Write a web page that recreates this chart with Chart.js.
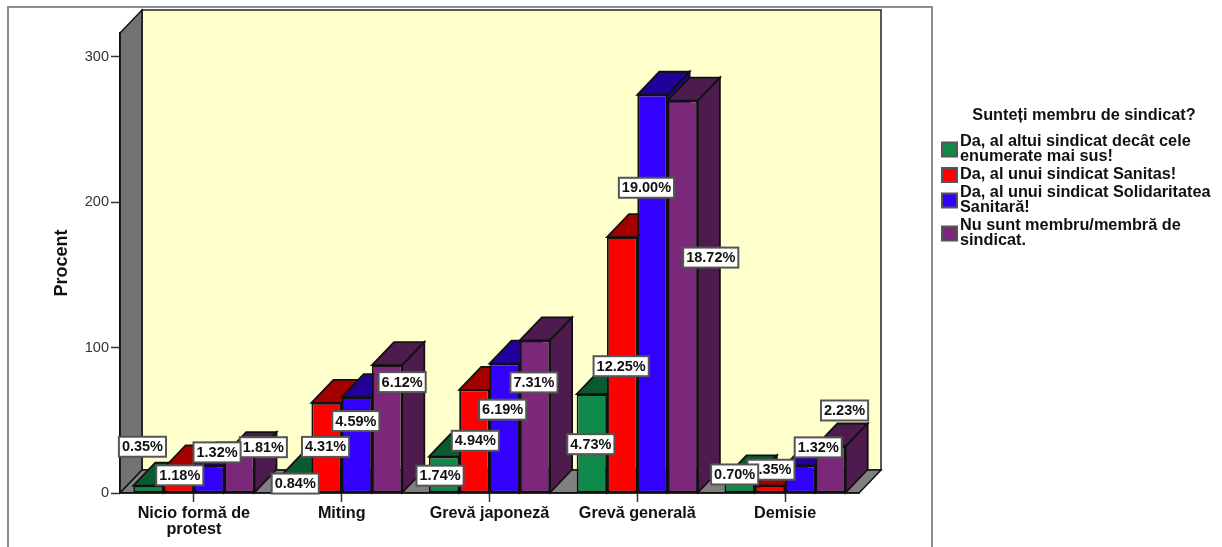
<!DOCTYPE html>
<html>
<head>
<meta charset="utf-8">
<title>Forme de protest</title>
<script src="https://cdn.jsdelivr.net/npm/chart.js@4/dist/chart.umd.js"></script>
<style>
  html, body { margin: 0; padding: 0; background: #fff; }
  canvas { display: block; }
</style>
</head>
<body>
<canvas id="chart" width="1222" height="547"></canvas>
<script>
const categories = [['Nicio formă de', 'protest'], 'Miting', 'Grevă japoneză', 'Grevă generală', 'Demisie'];
const seriesNames = [
    'Da, al altui sindicat decât cele enumerate mai sus!',
    'Da, al unui sindicat Sanitas!',
    'Da, al unui sindicat Solidaritatea Sanitară!',
    'Nu sunt membru/membră de sindicat.'
];
const legendTitle = 'Sunteți membru de sindicat?';

// bar heights
const altSindicat = [5, 12, 25, 68, 10];
const sanitas = [17, 62, 71, 176, 5];
const solidaritatea = [19, 66, 89, 274, 19];
const nemembru = [26, 88, 105, 270, 32];

// percentages printed in the boxes
const altSindicatPct = ['0.35%', '0.84%', '1.74%', '4.73%', '0.70%'];
const sanitasPct = ['1.18%', '4.31%', '4.94%', '12.25%', '0.35%'];
const solidaritateaPct = ['1.32%', '4.59%', '6.19%', '19.00%', '1.32%'];
const nemembruPct = ['1.81%', '6.12%', '7.31%', '18.72%', '2.23%'];

const frontColors = ['#0f8a4b', '#ff0000', '#3300ff', '#7b287b'];
const darkColors = ['#0a5a31', '#a50000', '#22009c', '#4d1b4d'];

// where each box sits relative to the top of its bar
const boxShiftX = [
    [-6, -1, -4, -1, -5],
    [1, -1, 1, -1, 1],
    [8, -1, -2, -6, 18],
    [24, 15, -1, 28, 14]
];
const boxShiftY = [
    [-39, 8, 19, 50, -4],
    [7, 44, 51, 129, -16],
    [-13, 24, 46, 93, -18],
    [-8, 17, 42, 157, -36]
];

const FONT = '"Liberation Sans", Arial, sans-serif';
const DEPTH_X = 22;
const DEPTH_Y = 23;

function polygon(ctx, pts, fill, stroke, width) {
    ctx.beginPath();
    pts.forEach((p, i) => (i ? ctx.lineTo(p[0], p[1]) : ctx.moveTo(p[0], p[1])));
    ctx.closePath();
    ctx.fillStyle = fill;
    ctx.fill();
    ctx.lineWidth = width || 1;
    ctx.strokeStyle = stroke || '#111';
    ctx.stroke();
}

const roomPlugin = {
    id: 'room',
    beforeDraw(chart) {
        const ctx = chart.ctx;
        const { left, right, top, bottom } = chart.chartArea;
        ctx.save();
        polygon(ctx, [[left + DEPTH_X, top - DEPTH_Y], [right + DEPTH_X, top - DEPTH_Y],
            [right + DEPTH_X, bottom - DEPTH_Y], [left + DEPTH_X, bottom - DEPTH_Y]], '#ffffcc', '#222', 1.5);
        polygon(ctx, [[left, top], [left + DEPTH_X, top - DEPTH_Y],
            [left + DEPTH_X, bottom - DEPTH_Y], [left, bottom]], '#737373', '#111', 1.5);
        polygon(ctx, [[left, bottom], [left + DEPTH_X, bottom - DEPTH_Y],
            [right + DEPTH_X, bottom - DEPTH_Y], [right, bottom]], '#808080', '#111', 1.5);
        ctx.restore();
    }
};

// paints the series left to right so a bar's side goes behind the next bar,
// with side and top faces taken from the bar elements
const barsPlugin = {
    id: 'bars3d',
    beforeDatasetsDraw(chart) {
        const ctx = chart.ctx;
        chart.data.datasets.forEach((set, s) => {
            const meta = chart.getDatasetMeta(s);
            const dark = darkColors[s];
            ctx.save();
            meta.data.forEach(bar => {
                const l = bar.x - bar.width / 2;
                const r = bar.x + bar.width / 2;
                polygon(ctx, [[l, bar.y], [l + DEPTH_X, bar.y - DEPTH_Y],
                    [r + DEPTH_X, bar.y - DEPTH_Y], [r, bar.y]], dark, '#111', 1.8);
                polygon(ctx, [[r, bar.y], [r + DEPTH_X, bar.y - DEPTH_Y],
                    [r + DEPTH_X, bar.base - DEPTH_Y], [r, bar.base]], dark, '#111', 1.8);
            });
            ctx.restore();
            meta.controller.draw();
        });
        return false;
    }
};

function drawBoxes(chart) {
    const ctx = chart.ctx;
    ctx.save();
    ctx.font = 'bold 14.5px ' + FONT;
    ctx.textAlign = 'center';
    ctx.textBaseline = 'middle';
    for (let s = chart.data.datasets.length - 1; s >= 0; s--) {
        const set = chart.data.datasets[s];
        chart.getDatasetMeta(s).data.forEach((bar, i) => {
            const text = set.percents[i];
            const w = ctx.measureText(text).width + 6;
            const cx = bar.x + boxShiftX[s][i];
            const cy = bar.y + boxShiftY[s][i];
            ctx.fillStyle = '#fff';
            ctx.fillRect(cx - w / 2, cy - 10, w, 20);
            ctx.lineWidth = 2;
            ctx.strokeStyle = '#555';
            ctx.strokeRect(cx - w / 2, cy - 10, w, 20);
            ctx.fillStyle = '#111';
            ctx.fillText(text, cx, cy + 0.5);
        });
    }
    ctx.restore();
}

function wrapWords(ctx, text, maxWidth) {
    const lines = [];
    let line = '';
    text.split(' ').forEach(word => {
        const next = line ? line + ' ' + word : word;
        if (line && ctx.measureText(next).width > maxWidth) {
            lines.push(line);
            line = word;
        } else {
            line = next;
        }
    });
    lines.push(line);
    return lines;
}

const overlayPlugin = {
    id: 'overlay',
    afterDraw(chart) {
        drawBoxes(chart);

        const ctx = chart.ctx;
        ctx.save();
        // outer frame
        ctx.strokeStyle = '#8c8c8c';
        ctx.lineWidth = 2;
        ctx.beginPath();
        ctx.moveTo(8, 547);
        ctx.lineTo(8, 7);
        ctx.lineTo(932, 7);
        ctx.lineTo(932, 547);
        ctx.stroke();

        ctx.fillStyle = '#111';
        ctx.font = 'bold 16.3px ' + FONT;
        ctx.textBaseline = 'middle';
        ctx.textAlign = 'center';
        ctx.fillText(legendTitle, 1084, 116);
        ctx.textAlign = 'left';

        let y = 142;
        chart.data.datasets.forEach((set, s) => {
            const lines = wrapWords(ctx, set.label, 258);
            const mid = y + (lines.length - 1) * 7.5;
            ctx.fillStyle = frontColors[s];
            ctx.fillRect(942, mid - 7, 15, 14);
            ctx.lineWidth = 2;
            ctx.strokeStyle = '#555';
            ctx.strokeRect(942, mid - 7, 15, 14);
            ctx.fillStyle = '#111';
            lines.forEach((line, i) => ctx.fillText(line, 960, y + i * 15));
            y += (lines.length - 1) * 15 + 18;
        });
        ctx.restore();
    }
};

new Chart(document.getElementById('chart').getContext('2d'), {
    type: 'bar',
    data: {
        labels: categories,
        datasets: [
            { label: seriesNames[0], data: altSindicat, percents: altSindicatPct },
            { label: seriesNames[1], data: sanitas, percents: sanitasPct },
            { label: seriesNames[2], data: solidaritatea, percents: solidaritateaPct },
            { label: seriesNames[3], data: nemembru, percents: nemembruPct }
        ].map((set, s) => ({
            ...set,
            backgroundColor: frontColors[s],
            borderColor: '#111',
            borderWidth: 1.8,
            borderSkipped: false,
            categoryPercentage: 0.82,
            barPercentage: 1
        }))
    },
    options: {
        responsive: false,
        animation: false,
        layout: { padding: { left: 0, top: 33, right: 363, bottom: 0 } },
        plugins: {
            legend: { display: false },
            tooltip: { enabled: false }
        },
        scales: {
            x: {
                afterFit(scale) { scale.height = 54; },
                border: { color: '#111', width: 1.5 },
                grid: {
                    offset: false,
                    drawOnChartArea: false,
                    tickLength: 9,
                    tickColor: '#333',
                    tickWidth: 1.5
                },
                ticks: {
                    color: '#111',
                    padding: 4,
                    maxRotation: 0,
                    autoSkip: false,
                    font: { family: FONT, size: 16.2, weight: 'bold', lineHeight: 0.95 }
                }
            },
            y: {
                min: 0,
                max: 316.5,
                afterFit(scale) { scale.width = 120; },
                border: { color: '#111', width: 1.5 },
                grid: {
                    drawOnChartArea: false,
                    tickLength: 9,
                    tickColor: '#333',
                    tickWidth: 1.5
                },
                ticks: {
                    stepSize: 100,
                    includeBounds: false,
                    color: '#333',
                    padding: 2,
                    font: { family: FONT, size: 14.5 }
                },
                title: {
                    display: true,
                    text: 'Procent',
                    color: '#111',
                    padding: { top: 51, bottom: 0 },
                    font: { family: FONT, size: 18, weight: 'bold' }
                }
            }
        }
    },
    plugins: [roomPlugin, barsPlugin, overlayPlugin]
});
</script>
</body>
</html>
